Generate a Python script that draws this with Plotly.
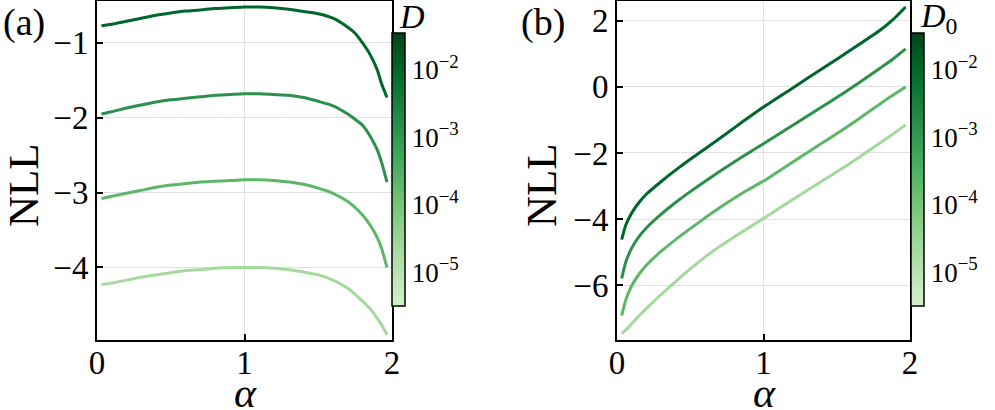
import plotly.graph_objects as go

# ---------------- data ----------------
alpha_a = [0.03, 0.1, 0.2, 0.3, 0.4, 0.5, 0.6, 0.7, 0.8, 0.9, 1.0, 1.1, 1.2,
           1.3, 1.4, 1.5, 1.6, 1.7, 1.75, 1.8, 1.85, 1.9, 1.93, 1.966]
nll_a_1e2 = [-0.77, -0.75, -0.71, -0.67, -0.63, -0.60, -0.575, -0.56, -0.54, -0.53, -0.52, -0.52, -0.53,
             -0.55, -0.58, -0.61, -0.67, -0.79, -0.87, -1.00, -1.15, -1.36, -1.55, -1.73]
nll_a_1e3 = [-1.95, -1.92, -1.87, -1.83, -1.79, -1.76, -1.74, -1.72, -1.70, -1.69, -1.68, -1.68, -1.69,
             -1.70, -1.73, -1.78, -1.84, -1.95, -2.02, -2.10, -2.24, -2.43, -2.60, -2.86]
nll_a_1e4 = [-3.08, -3.05, -3.01, -2.97, -2.93, -2.90, -2.88, -2.86, -2.85, -2.84, -2.83, -2.83, -2.84,
             -2.86, -2.89, -2.94, -3.01, -3.12, -3.20, -3.30, -3.43, -3.60, -3.75, -4.00]
nll_a_1e5 = [-4.23, -4.21, -4.17, -4.13, -4.10, -4.07, -4.04, -4.03, -4.01, -4.00, -4.00, -4.00, -4.01,
             -4.03, -4.06, -4.10, -4.17, -4.28, -4.36, -4.45, -4.55, -4.68, -4.77, -4.90]

alpha_b = [0.032, 0.06, 0.1, 0.15, 0.2, 0.3, 0.4, 0.5, 0.6, 0.7, 0.8, 0.9, 1.0,
           1.2, 1.4, 1.6, 1.8, 1.88, 1.97]
nll_b_1e2 = [-4.62, -4.18, -3.82, -3.50, -3.25, -2.87, -2.52, -2.19, -1.88, -1.56, -1.24, -0.92, -0.61,
             -0.03, 0.55, 1.13, 1.73, 2.02, 2.42]
nll_b_1e3 = [-5.80, -5.30, -4.88, -4.53, -4.27, -3.86, -3.50, -3.17, -2.86, -2.56, -2.27, -1.99, -1.72,
             -1.16, -0.60, -0.03, 0.58, 0.83, 1.15]
nll_b_1e4 = [-6.92, -6.45, -6.02, -5.67, -5.40, -4.98, -4.62, -4.29, -3.97, -3.66, -3.37, -3.10, -2.85,
             -2.27, -1.70, -1.12, -0.50, -0.26, 0.00]
nll_b_1e5 = [-7.47, -7.36, -7.17, -6.93, -6.71, -6.29, -5.89, -5.51, -5.15, -4.83, -4.54, -4.26, -3.98,
             -3.41, -2.85, -2.29, -1.68, -1.44, -1.15]

series_a = [nll_a_1e2, nll_a_1e3, nll_a_1e4, nll_a_1e5]
series_b = [nll_b_1e2, nll_b_1e3, nll_b_1e4, nll_b_1e5]

cbar_tickvals = [-2, -3, -4, -5]
cbar_ticktext = ["10<sup>\u22122</sup>", "10<sup>\u22123</sup>", "10<sup>\u22124</sup>", "10<sup>\u22125</sup>"]
log_min, log_max = -5.5, -1.46

xa_ticks = [0, 1, 2]
ya_ticks = [-1, -2, -3, -4]
yb_ticks = [2, 0, -2, -4, -6]

# ---------------- style ----------------
W, H = 995, 410
FONT = "Liberation Serif"
line_colors = ["#00662b", "#2b904b", "#5cb768", "#a3d99c"]
greens = [[0.0, "#d3eecd"], [0.0625, "#c7e9c0"], [0.21875, "#a1d99b"], [0.375, "#74c476"],
          [0.53125, "#41ab5d"], [0.6875, "#238b45"], [0.84375, "#006d2c"], [1.0, "#00441b"]]


def px_x(p):
    return p / W


def px_y(p):
    return (H - p) / H


fig = go.Figure()

for ys, c in zip(series_a, line_colors):
    fig.add_trace(go.Scatter(x=alpha_a, y=ys, mode="lines",
                             line=dict(color=c, width=3, shape="spline", smoothing=0.6),
                             xaxis="x", yaxis="y", showlegend=False))
for ys, c in zip(series_b, line_colors):
    fig.add_trace(go.Scatter(x=alpha_b, y=ys, mode="lines",
                             line=dict(color=c, width=3, shape="spline", smoothing=0.6),
                             xaxis="x2", yaxis="y2", showlegend=False))

# dummy traces to carry colorbars
fig.add_trace(go.Scatter(x=[None], y=[None], mode="markers", xaxis="x", yaxis="y",
                         marker=dict(color=[log_min], coloraxis="coloraxis"), showlegend=False, hoverinfo="skip"))
fig.add_trace(go.Scatter(x=[None], y=[None], mode="markers", xaxis="x2", yaxis="y2",
                         marker=dict(color=[log_min], coloraxis="coloraxis2"), showlegend=False, hoverinfo="skip"))


def cbar(xpx):
    return dict(
        x=px_x(xpx), xanchor="left", xpad=0, ypad=0,
        y=px_y(169.5), yanchor="middle",
        len=273, lenmode="pixels", thickness=13, thicknessmode="pixels",
        outlinewidth=1.5, outlinecolor="black",
        tickmode="array", tickvals=cbar_tickvals, ticktext=cbar_ticktext,
        ticks="",
        tickfont=dict(family=FONT, size=27, color="black"),
    )


fig.update_layout(
    coloraxis=dict(colorscale=greens, cmin=log_min, cmax=log_max, colorbar=cbar(392)),
    coloraxis2=dict(colorscale=greens, cmin=log_min, cmax=log_max, colorbar=cbar(911)),
)

axis_common = dict(
    showline=True, linecolor="black", linewidth=2, mirror=True,
    ticks="inside", ticklen=6, tickwidth=2, tickcolor="black",
    showgrid=True, gridcolor="#e0e0e0", gridwidth=1, zeroline=False,
    tickfont=dict(family=FONT, size=33, color="black"),
)

ydom = [px_y(340), px_y(1)]
fig.update_layout(
    width=W, height=H,
    margin=dict(l=0, r=0, t=0, b=0, autoexpand=False),
    paper_bgcolor="white", plot_bgcolor="white",
    font=dict(family=FONT, color="black"),
    xaxis=dict(domain=[px_x(97), px_x(392)], range=[0, 2], tickvals=xa_ticks, anchor="y",
               ticklabelstandoff=-8, **axis_common),
    yaxis=dict(domain=ydom, range=[-4.97, -0.44], tickvals=ya_ticks, anchor="x", **axis_common),
    xaxis2=dict(domain=[px_x(617), px_x(910)], range=[0, 2], tickvals=xa_ticks, anchor="y2",
                ticklabelstandoff=-8, **axis_common),
    yaxis2=dict(domain=ydom, range=[-7.66, 2.6], tickvals=yb_ticks, anchor="x2", **axis_common),
)

ann = []


def add_text(text, xp, yp, size, angle=0, yanchor="middle"):
    ann.append(dict(text=text, x=px_x(xp), y=px_y(yp), xref="paper", yref="paper",
                    xanchor="center", yanchor=yanchor, showarrow=False, textangle=angle,
                    font=dict(family=FONT, size=size, color="black")))


add_text("(a)", 24, 22, 38)
add_text("(b)", 543, 22, 38)
add_text("NLL", 24, 185, 43, -90)
add_text("NLL", 542, 185, 43, -90)
add_text("<i>\u03b1</i>", 245, 393, 42)
add_text("<i>\u03b1</i>", 764, 393, 42)
add_text("<i>D</i>", 412, 16, 34)
add_text("<i>D</i><sub>0</sub>", 938, 18, 34)
fig.update_layout(annotations=ann)

fig.write_html("out.html", config={"displayModeBar": False},
               post_script="document.body.style.margin='0px';")
